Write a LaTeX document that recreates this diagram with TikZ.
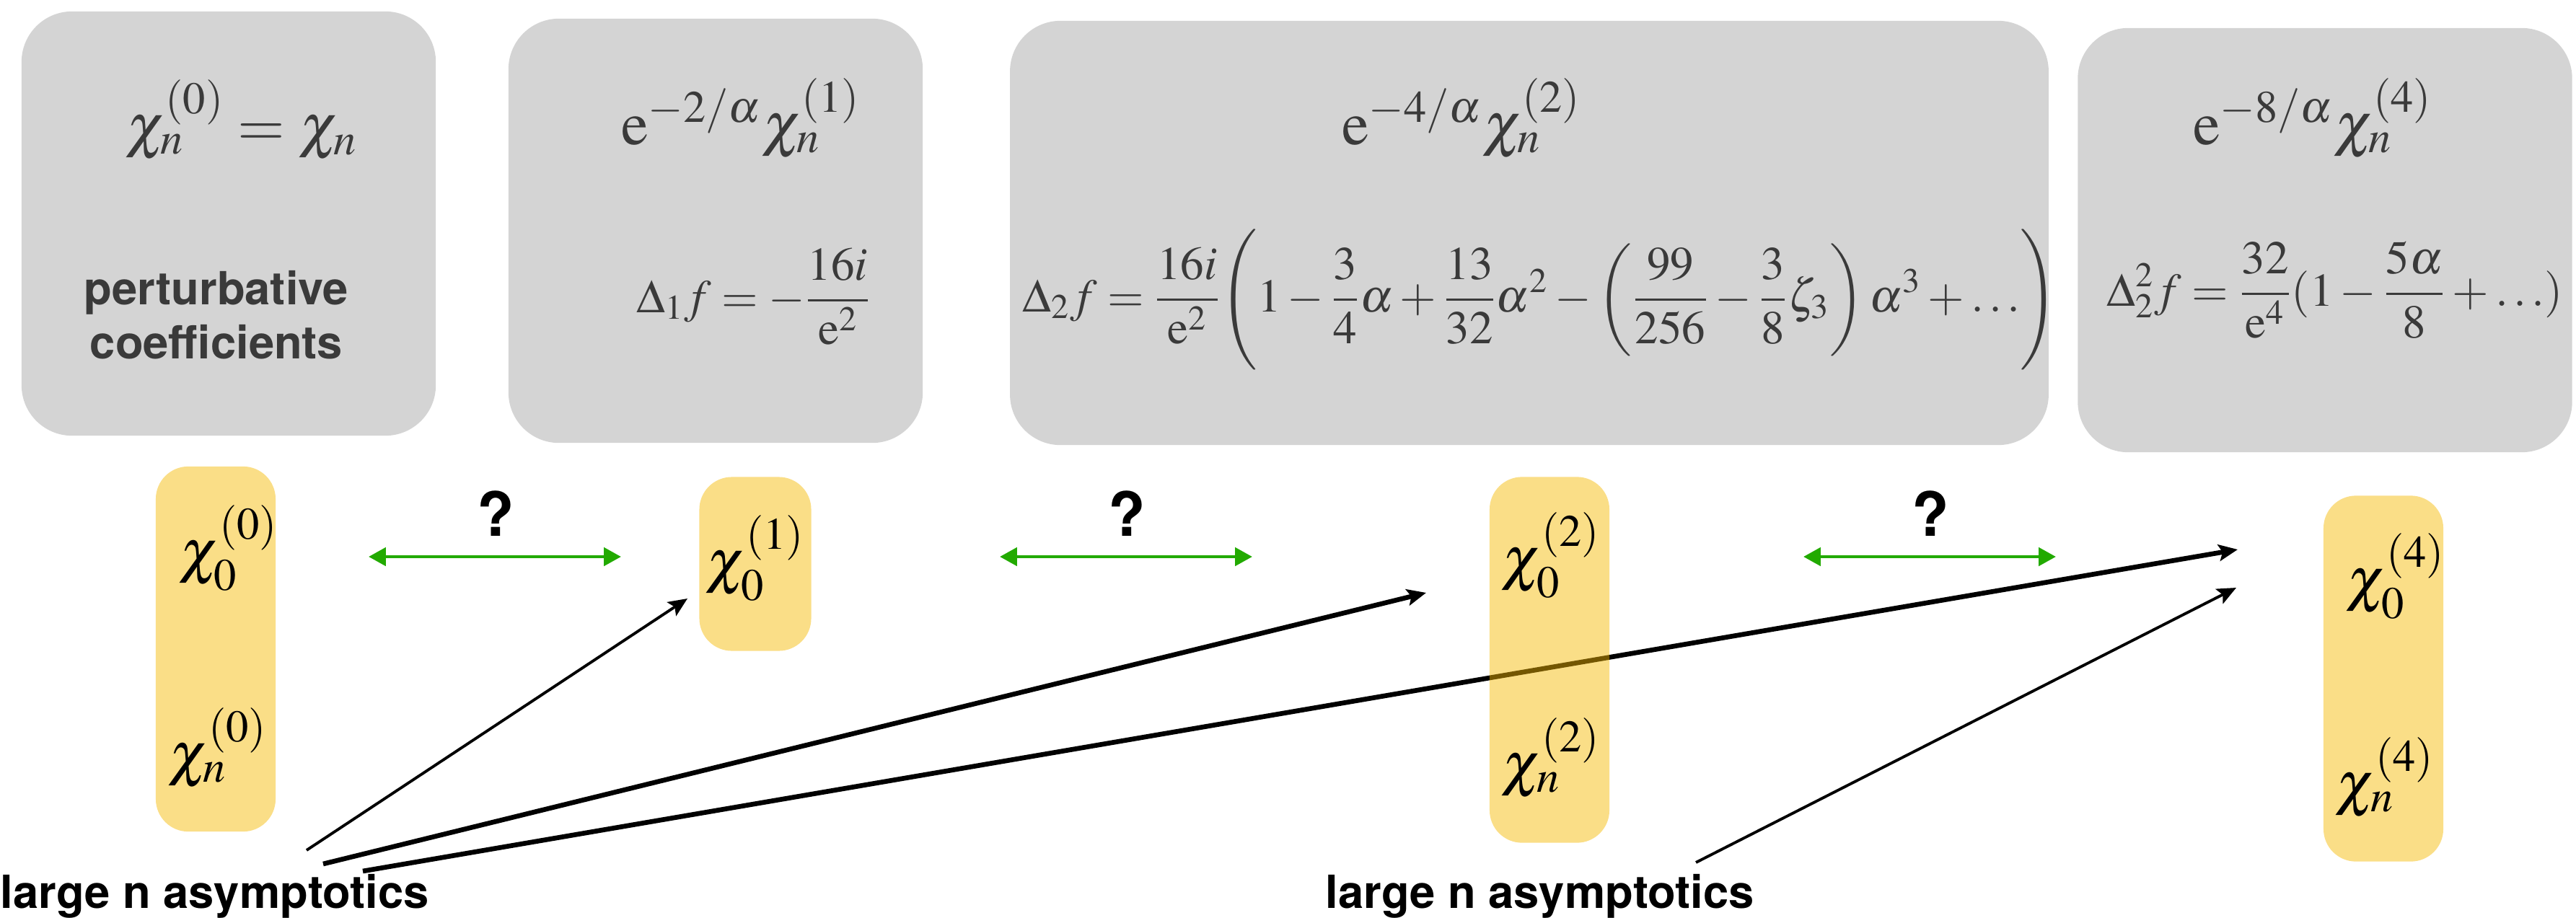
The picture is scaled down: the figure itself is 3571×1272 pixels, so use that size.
\documentclass[tikz,border=0pt]{standalone}
\usepackage{mathptmx}
\usepackage{fontspec}
\newfontfamily\helv{TeX Gyre Heros}
\usetikzlibrary{arrows.meta, positioning}
\definecolor{boxGrey}{HTML}{D4D4D4}
\definecolor{inkGrey}{HTML}{3A3A3A}
\definecolor{boxGold}{HTML}{F5B800}
\definecolor{linkGreen}{HTML}{22AA00}
\tikzset{
  sector/.style   = {fill=boxGrey, rounded corners=0.7cm, inner sep=0pt, minimum height=5.88cm},
  coeff/.style    = {fill=boxGold, fill opacity=0.47, rounded corners=0.45cm, inner sep=0pt,
                     minimum width=1.66cm},
  bigmath/.style  = {inkGrey, font=\fontsize{24}{29}\selectfont, inner sep=0pt, anchor=base},
  eqmath/.style   = {inkGrey, font=\fontsize{18.5}{22}\selectfont, inner sep=0pt, anchor=base},
  ymath/.style    = {black, font=\fontsize{24}{29}\selectfont, inner sep=0pt, anchor=base},
  sanslbl/.style  = {font=\helv\bfseries\fontsize{18}{21.3}\selectfont, inner sep=0pt},
  qmark/.style    = {font=\helv\bfseries\fontsize{24}{28}\selectfont, inner sep=0pt},
  link/.style     = {{Triangle[length=6.8pt,width=7.1pt]}-{Triangle[length=6.8pt,width=7.1pt]},
                     linkGreen, line width=1.4pt},
  asym/.style     = {-{Stealth[length=7.5pt,width=6.5pt,inset=1.5pt]}, black},
}

\begin{document}
\begin{tikzpicture}[x=0.01cm, y=-0.01cm]
  \useasboundingbox (0,0) rectangle (3571,1272);
  % grey sectors
  \node[sector, minimum width=5.74cm]  (S0) at (317,310) {};
  \node[sector, minimum width=5.74cm]  (S1) at (992,320) {};
  \node[sector, minimum width=14.39cm] (S2) at (2120,323) {};
  \node[sector, minimum width=6.85cm]  (S4) at (3223,333) {};

  \node[bigmath] (T0) at (335,202)  {$\chi_n^{(0)} = \chi_n$};
  \node[bigmath] (T1) at (1027,200) {$\mathrm{e}^{-2/\alpha}\chi_n^{(1)}$};
  \node[bigmath] (T2) at (2026,200) {$\mathrm{e}^{-4/\alpha}\chi_n^{(2)}$};
  \node[bigmath] (T4) at (3206,200) {$\mathrm{e}^{-8/\alpha}\chi_n^{(4)}$};

  \node[sanslbl, inkGrey, align=center] (pert) at (300,437) {perturbative\\coefficients};
  \node[eqmath] (D1) at (1045,433) {$\displaystyle \Delta_1 f = -\frac{16i}{\mathrm{e}^2}$};
  \node[eqmath] (D2) at (2135,432) {$\displaystyle \Delta_2 f = \frac{16i}{\mathrm{e}^2}\Biggl(1-\frac{3}{4}\alpha+\frac{13}{32}\alpha^2-\left(\frac{99}{256}-\frac{3}{8}\zeta_3\right)\alpha^3+\ldots\Biggr)$};
  \node[eqmath] (D4) at (3237,424) {$\displaystyle \Delta_2^2 f = \frac{32}{\mathrm{e}^4}(1-\frac{5\alpha}{8}+\ldots)$};

  % large n asymptotics
  \node[sanslbl, anchor=base west] (asymL) at (0,1259)    {large n asymptotics};
  \node[sanslbl, anchor=base west] (asymR) at (1837,1259) {large n asymptotics};
  \coordinate (a1) at (425,1179);  \coordinate (h1) at (953,830);
  \coordinate (a2) at (448,1198);  \coordinate (h2) at (1977,822);
  \coordinate (a4) at (503,1208);  \coordinate (h4) at (3102,762);
  \coordinate (b4) at (2351,1196); \coordinate (k4) at (3100,815);
  \draw[asym, line width=1.1pt] (a1) -- (h1);
  \draw[asym, line width=1.9pt] (a2) -- (h2);
  \draw[asym, line width=1.9pt] (a4) -- (h4);
  \draw[asym, line width=1.1pt] (b4) -- (k4);

  % yellow columns
  \node[coeff, minimum height=5.06cm] (Y0) at (299,900) {};
  \node[coeff, minimum width=1.55cm, minimum height=2.41cm] (Y1) at (1047,782) {};
  \node[coeff, minimum height=5.07cm] (Y2) at (2148,915) {};
  \node[coeff, minimum height=5.07cm] (Y4) at (3304,941) {};

  \node[ymath] (c00) at (317,792)  {$\chi_0^{(0)}$};
  \node[ymath] (cn0) at (302,1073) {$\chi_n^{(0)}$};
  \node[ymath] (c01) at (1047,806) {$\chi_0^{(1)}$};
  \node[ymath] (c02) at (2150,802) {$\chi_0^{(2)}$};
  \node[ymath] (cn2) at (2150,1087) {$\chi_n^{(2)}$};
  \node[ymath] (c04) at (3321,831) {$\chi_0^{(4)}$};
  \node[ymath] (cn4) at (3306,1114) {$\chi_n^{(4)}$};

  \foreach \x/\n in {511/1, 1386/2, 2500/3} {
    \coordinate (L\n) at (\x,772);
    \coordinate (R\n) at (\x+350,772);
    \draw[link] (L\n) -- (R\n);
    \node[qmark] (Q\n) at (\x+176,712) {?};
  }
\end{tikzpicture}
\end{document}
